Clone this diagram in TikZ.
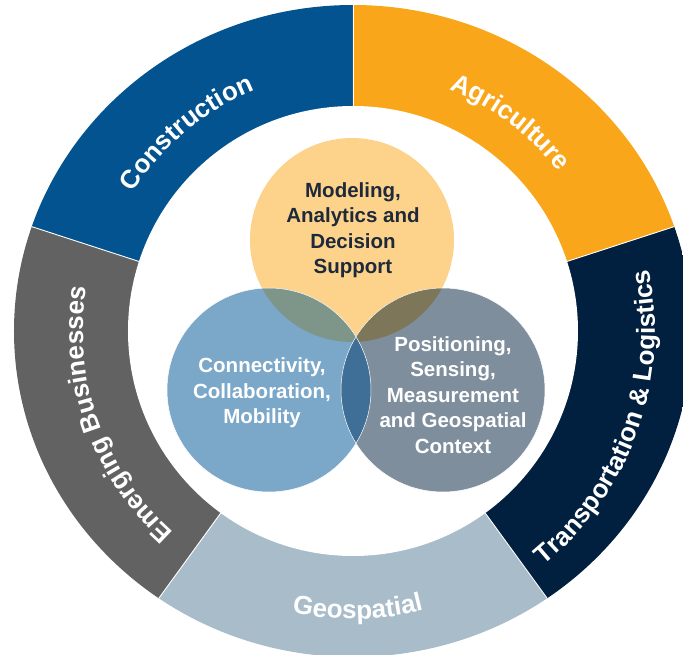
\documentclass[tikz,border=0pt]{standalone}
\usepackage{fontspec}
\setmainfont{Liberation Sans}
\usetikzlibrary{decorations.text}
\definecolor{constr}{HTML}{02538F}
\definecolor{agri}{HTML}{F9A61A}
\definecolor{transp}{HTML}{011F3E}
\definecolor{geo}{HTML}{A9BCCA}
\definecolor{emerg}{HTML}{626262}
\definecolor{topc}{HTML}{FDD38B}
\definecolor{leftc}{HTML}{7BA7C9}
\definecolor{rightc}{HTML}{7F8E9D}
\definecolor{tlc}{HTML}{7E958A}
\definecolor{trc}{HTML}{7E7659}
\definecolor{lrc}{HTML}{3F6E96}
\definecolor{darktext}{HTML}{1E2A3A}
\newcommand{\ringfont}{\fontsize{26}{26}\selectfont\bfseries}
\begin{document}
\begin{tikzpicture}[x=1pt,y=1pt,
  ringtext/.style={decorate, decoration={text along path, text align=center, text color=white, text={|\ringfont|#1}}},
  circtext/.style={align=center, font=\fontsize{20.5}{25.5}\selectfont\bfseries, inner sep=0pt},
  sep/.style={white, line width=0.9pt},
  rim/.style={white, line width=0.5pt}]
\useasboundingbox (-353,-323) rectangle (330,331);
% outer ring segments
\begin{scope}
  \clip (0,0) ellipse [x radius=339, y radius=326];
  \fill[constr] (0,0) -- (90:400) arc[start angle=90, end angle=162, radius=400] -- cycle;
  \fill[emerg] (0,0) -- (162:400) arc[start angle=162, end angle=234, radius=400] -- cycle;
  \fill[geo] (0,0) -- (234:400) arc[start angle=234, end angle=306, radius=400] -- cycle;
  \fill[transp] (0,0) -- (306:400) arc[start angle=306, end angle=378, radius=400] -- cycle;
  \fill[agri] (0,0) -- (18:400) arc[start angle=18, end angle=90, radius=400] -- cycle;
  \foreach \a in {90,162,234,306,18} \draw[sep] (\a:225) -- (\a:400);
\end{scope}
\fill[white] (0,0) circle[radius=225];
% ring labels
\path[ringtext=Construction] (180:260) arc[start angle=180, end angle=80, radius=260];
\path[ringtext=Agriculture] (103:260) arc[start angle=103, end angle=3, radius=260];
\path[ringtext={Transportation {\&} Logistics}] (-70:302) arc[start angle=-70, end angle=31, radius=302];
\path[ringtext=Geospatial] (-139:288) arc[start angle=-139, end angle=-39, radius=288];
\path[ringtext={Emerging Businesses}] (250:270) arc[start angle=250, end angle=149, radius=270];
% Venn circles
\coordinate (ct) at (-1,91);
\coordinate (cl) at (-84,-59);
\coordinate (cr) at (90,-59);
\fill[topc] (ct) circle[radius=102];
\fill[leftc] (cl) circle[radius=102];
\fill[rightc] (cr) circle[radius=102];
\begin{scope}
  \clip (ct) circle[radius=102];
  \fill[tlc] (cl) circle[radius=102];
  \fill[trc] (cr) circle[radius=102];
\end{scope}
\begin{scope}
  \clip (cl) circle[radius=102];
  \fill[lrc] (cr) circle[radius=102];
\end{scope}
\draw[rim] (cl) circle[radius=102];
\draw[rim] (cr) circle[radius=102];
% circle texts
\node[circtext, text=darktext] (tmod) at (0,101) {Modeling,\\Analytics and\\Decision\\Support};
\node[circtext, text=white] (tcon) at (-91,-62) {Connectivity,\\Collaboration,\\Mobility};
\node[circtext, text=white] (tpos) at (100,-64) {Positioning,\\Sensing,\\Measurement\\and Geospatial\\Context};
\end{tikzpicture}
\end{document}
